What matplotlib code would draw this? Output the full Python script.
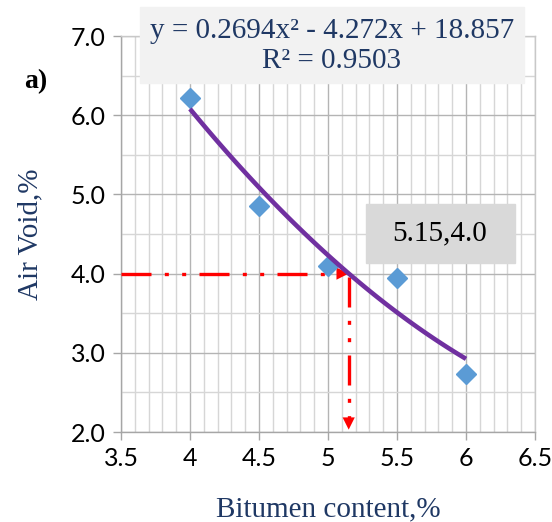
import matplotlib.pyplot as plt
from matplotlib.patches import Rectangle
from matplotlib.ticker import MultipleLocator
import numpy as np

# measured points
bitumen = [4.0, 4.5, 5.0, 5.5, 6.0]
air_void = [6.22, 4.85, 4.10, 3.95, 2.73]

# trendline from the chart label
coef = [0.2694, -4.272, 18.857]
r2 = 0.9503
opt_x = 5.15
opt_y = 4.0

navy = '#1F3864'

fig = plt.figure(figsize=(5.52, 5.22), dpi=100)
ax = fig.add_axes([121/552, 90/522, 414/552, 396/522])

ax.set_xlim(3.5, 6.5)
ax.set_ylim(2.0, 7.0)
ax.xaxis.set_major_locator(MultipleLocator(0.5))
ax.xaxis.set_minor_locator(MultipleLocator(0.1))
ax.yaxis.set_major_locator(MultipleLocator(1.0))
ax.yaxis.set_minor_locator(MultipleLocator(0.5))
ax.set_yticks([2, 3, 4, 5, 6, 7])
ax.set_yticklabels(['2.0', '3.0', '4.0', '5.0', '6.0', '7.0'])
ax.set_xticks([3.5, 4, 4.5, 5, 5.5, 6, 6.5])
ax.set_xticklabels(['3.5', '4', '4.5', '5', '5.5', '6', '6.5'])

ax.grid(which='major', color='#B4B4B4', lw=1.0)
ax.grid(which='minor', color='#D6D6D6', lw=1.0)
ax.set_axisbelow(True)
for s in ax.spines.values():
    s.set_color('#A6A6A6')
    s.set_linewidth(1.0)
ax.spines['top'].set_color('#C8C8C8')
ax.spines['right'].set_color('#C8C8C8')
ax.tick_params(which='major', length=6, width=1, color='#A6A6A6', labelsize=18, pad=5)
ax.tick_params(which='minor', length=0)
for lab in ax.get_xticklabels() + ax.get_yticklabels():
    lab.set_fontfamily('Lato')

# red guide lines
dash = (0, (9, 4, 1.2, 4, 1.2, 4))
ax.plot([3.5, opt_x - 0.03], [opt_y, opt_y], color='red', lw=2.4, ls=dash, clip_on=False, zorder=3)
ax.plot([opt_x, opt_x], [opt_y - 0.04, 2.12], color='red', lw=2.4, ls=dash, zorder=3)
ax.annotate('', xy=(opt_x, opt_y), xytext=(opt_x - 0.1, opt_y),
            arrowprops=dict(arrowstyle='-|>', color='red', lw=0, mutation_scale=22,
                            shrinkA=0, shrinkB=0), zorder=4)
ax.annotate('', xy=(opt_x, 2.03), xytext=(opt_x, 2.25),
            arrowprops=dict(arrowstyle='-|>', color='red', lw=0, mutation_scale=22,
                            shrinkA=0, shrinkB=0), zorder=4)

ax.plot(bitumen, air_void, ls='none', marker='D', ms=10.5, color='#5B9BD5', zorder=5)
xs = np.linspace(min(bitumen), max(bitumen), 100)
ax.plot(xs, np.polyval(coef, xs), color='#7030A0', lw=3.3, solid_capstyle='butt', zorder=6)

ax.set_xlabel('Bitumen content,%', family='Liberation Serif', fontsize=21, color=navy, labelpad=19)
ax.set_ylabel('Air Void,%', family='Liberation Serif', fontsize=21, color=navy, labelpad=20)

# equation box
fig.patches.append(Rectangle((140/552, 1 - 83/522), 384/552, 76/522,
                             transform=fig.transFigure, color='#F2F2F2', zorder=10))
eq = f'y = {coef[0]}x² - {abs(coef[1])}x + {coef[2]}'
fig.text(332/552, 1 - 31/522, eq, ha='center', va='center', family='Liberation Serif',
         fontsize=21, color=navy, zorder=11)
fig.text(332/552, 1 - 61/522, f'R² = {r2}', ha='center', va='center', family='Liberation Serif',
         fontsize=21, color=navy, zorder=11)

# optimum label
fig.patches.append(Rectangle((366/552, 1 - 263/522), 149/552, 59/522,
                             transform=fig.transFigure, color='#D9D9D9', zorder=10))
fig.text(440/552, 1 - 233/522, f'{opt_x},{opt_y}', ha='center', va='center',
         family='Liberation Serif', fontsize=21, color='black', zorder=11)

fig.text(36/552, 1 - 82/522, 'a)', ha='center', va='center', family='Liberation Serif',
         fontsize=20, weight='bold', color='black')

fig.savefig('out.png', dpi=100)
